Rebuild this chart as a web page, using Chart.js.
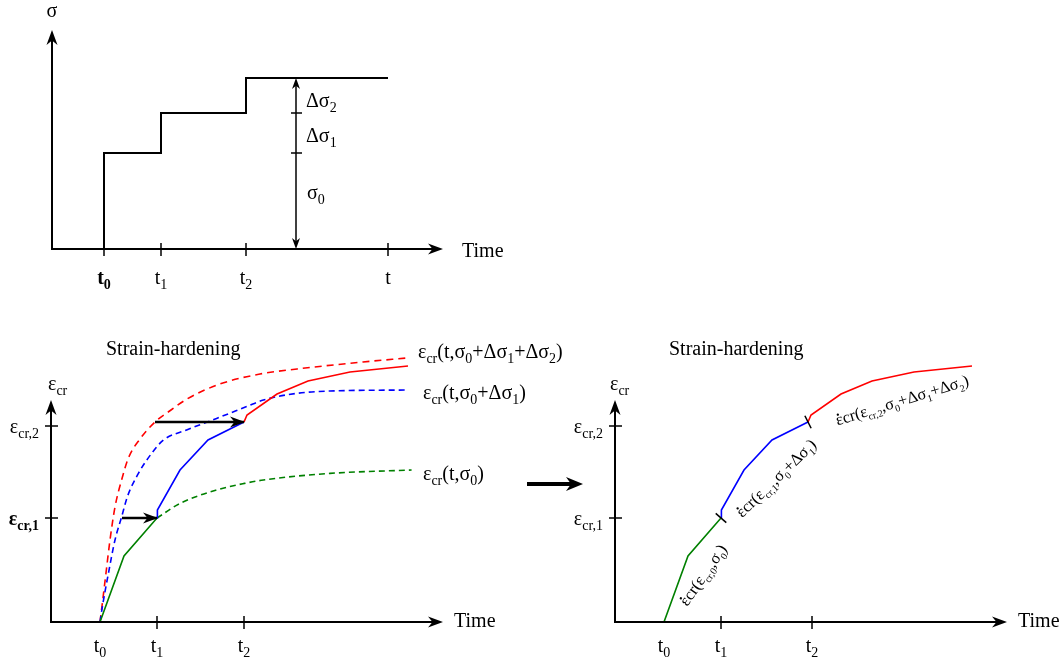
<!DOCTYPE html>
<html lang="en">
<head>
<meta charset="UTF-8" />
<title>Strain-hardening</title>
<style>
  body { margin: 0; background: #fff; overflow: hidden; }
  .page { position: relative; width: 1063px; height: 664px; }
  .page canvas { position: absolute; left: 0; top: 0; }
</style>
</head>
<body>
<div class="page">
  <canvas id="stressChart" width="1063" height="664"></canvas>
  <canvas id="hardeningChart" width="1063" height="664"></canvas>
  <canvas id="compositeChart" width="1063" height="664"></canvas>
</div>

<script src="https://cdn.jsdelivr.net/npm/chart.js"></script>
<script>
// ---- stress history (top) ----
// stepped 'after': each level holds from the previous time up to this one
const stressTimes  = [2.6, 5.45, 9.7, 16.8];
const stressLevels = [0, 4.8, 6.8, 8.55];
const stressTickValues = [2.6, 5.45, 9.7, 16.8];
const stressTickLabels = ['t_{0}', 't_{1}', 't_{2}', 't'];
const deltaArrowTime = 12.2;
const deltaMarks = [4.8, 6.8];

// ---- creep curves (bottom) ----
const timeTickLabels = ['t_{0}', 't_{1}', 't_{2}'];
const hardTickValues = [2.45, 5.3, 9.65];
const compTickValues = [2.45, 5.3, 9.85];
const strainTickValues = [5.2, 9.8];
const strainTickLabels = ['ε_{cr,1}', 'ε_{cr,2}'];

// dashed: creep curves at constant stress
const greenDashT = [5.3, 6.45, 8.28, 9.67, 10.62, 13.95, 18.03];
const greenDashE = [5.2, 5.93, 6.6, 6.93, 7.1, 7.43, 7.6];
const blueDashT = [2.45, 2.57, 2.87, 3.2, 3.53, 3.82, 4.37, 5.03, 5.62, 6.78, 8.28, 9.78, 10.62, 12.28, 13.95, 17.85];
const blueDashE = [0, 0.77, 2.43, 4.1, 5.25, 6.27, 7.43, 8.43, 9.1, 9.6, 10.18, 10.77, 11.1, 11.43, 11.55, 11.6];
const redDashT = [2.45, 2.55, 2.75, 2.95, 3.2, 3.53, 3.87, 4.45, 5.2, 6.0, 6.8, 8.45, 10.45, 12.3, 15.6, 17.8];
const redDashE = [0, 0.8, 2.45, 4.1, 5.75, 7.1, 8.2, 9.15, 10.0, 10.6, 11.15, 11.9, 12.4, 12.65, 13.0, 13.2];

// solid: strain-hardening path
const pathS0T = [2.45, 3.65, 5.3];
const pathS0E = [0, 3.3, 5.2];
const pathS1T = [5.3, 5.32, 6.45, 7.85, 9.65];
const pathS1E = [5.2, 5.6, 7.6, 9.1, 10.0];
const pathS2T = [9.65, 9.8, 11.3, 12.85, 14.95, 17.85];
const pathS2E = [10.0, 10.35, 11.4, 12.05, 12.5, 12.8];

// horizontal shifts (equal strain)
const shift1T = [3.55, 5.3];
const shift1E = [5.2, 5.2];
const shift2T = [5.2, 9.65];
const shift2E = [10.0, 10.0];

const UNIT = 20;          // px per unit on both axes
const PAGE_W = 1063, PAGE_H = 664;
const FONT = '"Liberation Serif", "Times New Roman", serif';
const RED = '#ff0000', BLUE = '#0000ff', GREEN = '#008000';

function frame(originX, originY, xMax, yMax) {
  return {
    left: originX,
    bottom: PAGE_H - originY,
    right: PAGE_W - originX - xMax * UNIT,
    top: originY - yMax * UNIT
  };
}

function series(xs, ys, color, extra) {
  return Object.assign({
    data: xs.map((x, i) => ({ x: x, y: ys[i] })),
    borderColor: color,
    borderWidth: 1.6,
    pointRadius: 0,
    fill: false,
    tension: 0,
    clip: false
  }, extra || {});
}

function dashed(xs, ys, color, dash) {
  return series(xs, ys, color, { borderDash: dash, tension: 0.4, cubicInterpolationMode: 'monotone' });
}

// text with _{subscript} and a combining dot (U+0307) over the previous char
function parseRich(str) {
  const parts = [];
  const re = /_\{([^}]*)\}|\u0307/g;
  let last = 0, m;
  while ((m = re.exec(str))) {
    if (m.index > last) parts.push({ t: str.slice(last, m.index), sub: false });
    if (m[0] === '\u0307') parts.push({ dot: true });
    else parts.push({ t: m[1], sub: true });
    last = re.lastIndex;
  }
  if (last < str.length) parts.push({ t: str.slice(last), sub: false });
  return parts;
}

function drawRich(ctx, str, x, y, size, align, bold, subRatio) {
  const parts = parseRich(str);
  const subSize = Math.round(size * (subRatio || 0.7));
  const w8 = bold ? 'bold ' : '';
  const fontOf = p => w8 + (p.sub ? subSize : size) + 'px ' + FONT;
  let total = 0;
  parts.forEach(p => {
    if (p.dot) { p.w = 0; return; }
    ctx.font = fontOf(p);
    p.w = ctx.measureText(p.t).width;
    total += p.w;
  });
  let cx = align === 'center' ? x - total / 2 : align === 'right' ? x - total : x;
  const base = y + size * 0.33;
  ctx.textAlign = 'left';
  ctx.textBaseline = 'alphabetic';
  let prevLastW = 0;
  parts.forEach(p => {
    if (p.dot) {
      ctx.beginPath();
      ctx.arc(cx - prevLastW / 2, base - size * 0.62, size * 0.07, 0, Math.PI * 2);
      ctx.fill();
      return;
    }
    ctx.font = fontOf(p);
    ctx.fillText(p.t, cx, base + (p.sub ? size * 0.26 : 0));
    prevLastW = ctx.measureText(p.t.slice(-1)).width;
    cx += p.w;
  });
}

function arrowHead(ctx, x, y, angle, len, half) {
  ctx.save();
  ctx.translate(x, y);
  ctx.rotate(angle);
  ctx.beginPath();
  ctx.moveTo(0, 0);
  ctx.lineTo(-len, -half);
  ctx.lineTo(-len * 0.7, 0);
  ctx.lineTo(-len, half);
  ctx.closePath();
  ctx.fill();
  ctx.restore();
}

function diagramPlugin(cfg) {
  return {
    id: 'diagram',
    afterDatasetsDraw(chart) {
      const ctx = chart.ctx;
      const X = v => chart.scales.x.getPixelForValue(v);
      const Y = v => chart.scales.y.getPixelForValue(v);
      ctx.save();
      ctx.fillStyle = '#000';
      ctx.strokeStyle = '#000';

      // arrowheads on datasets flagged arrowEnd
      chart.data.datasets.forEach((ds, i) => {
        if (!ds.arrowEnd) return;
        const pts = chart.getDatasetMeta(i).data;
        const a = pts[pts.length - 2], b = pts[pts.length - 1];
        arrowHead(ctx, b.x + 1, b.y, Math.atan2(b.y - a.y, b.x - a.x), 15, 5.5);
      });

      // axes
      const x0 = X(0), y0 = Y(0), xe = X(cfg.xEnd), ye = Y(cfg.yEnd);
      ctx.lineWidth = 2;
      ctx.beginPath();
      ctx.moveTo(x0, ye + 8);
      ctx.lineTo(x0, y0);
      ctx.lineTo(xe - 8, y0);
      ctx.stroke();
      arrowHead(ctx, xe, y0, 0, 15, 5.5);
      arrowHead(ctx, x0, ye, -Math.PI / 2, 15, 5.5);

      // ticks
      ctx.lineWidth = 1.5;
      cfg.xTicks.forEach((v, i) => {
        if (cfg.skipXTick && cfg.skipXTick.includes(i)) return;
        ctx.beginPath();
        ctx.moveTo(X(v), y0 - 6);
        ctx.lineTo(X(v), y0 + 7);
        ctx.stroke();
      });
      (cfg.yTicks || []).forEach(v => {
        ctx.beginPath();
        ctx.moveTo(x0 - 6, Y(v));
        ctx.lineTo(x0 + 7, Y(v));
        ctx.stroke();
      });

      // tick labels
      cfg.xTicks.forEach((v, i) => {
        drawRich(ctx, cfg.xLabels[i], X(v), Y(cfg.xLabelY), 20, 'center', (cfg.boldX || []).includes(i));
      });
      (cfg.yTicks || []).forEach((v, i) => {
        drawRich(ctx, cfg.yLabels[i], X(cfg.yLabelX), Y(v), 20, 'right', (cfg.boldY || []).includes(i));
      });

      // free texts
      (cfg.texts || []).forEach(t => {
        ctx.save();
        ctx.translate(X(t.x), Y(t.y));
        if (t.angle) ctx.rotate(t.angle * Math.PI / 180);
        drawRich(ctx, t.text, 0, 0, t.size || 20, t.align || 'left', t.bold, t.sub);
        ctx.restore();
      });

      if (cfg.extra) cfg.extra(ctx, X, Y, chart);
      ctx.restore();
    }
  };
}

function makeChart(id, datasets, originX, originY, xMax, yMax, cfg) {
  return new Chart(document.getElementById(id), {
    type: 'line',
    data: { datasets: datasets },
    options: {
      responsive: false,
      animation: false,
      events: [],
      layout: { padding: frame(originX, originY, xMax, yMax) },
      scales: {
        x: { type: 'linear', min: 0, max: xMax, display: false },
        y: { type: 'linear', min: 0, max: yMax, display: false }
      },
      plugins: { legend: { display: false }, tooltip: { enabled: false } }
    },
    plugins: [diagramPlugin(cfg)]
  });
}

// ---- top: stepped stress history ----
makeChart('stressChart', [
  series(stressTimes, stressLevels, '#000', { borderWidth: 2, stepped: 'after' })
], 52, 249, 20, 12, {
  xEnd: 19.55, yEnd: 10.95,
  xTicks: stressTickValues, xLabels: stressTickLabels, xLabelY: -1.4, boldX: [0],
  texts: [
    { text: 'σ', x: 0, y: 11.95, align: 'center' },
    { text: 'Time', x: 20.5, y: -0.05 },
    { text: 'Δσ_{2}', x: 12.7, y: 7.45 },
    { text: 'Δσ_{1}', x: 12.7, y: 5.7 },
    { text: 'σ_{0}', x: 12.75, y: 2.85 }
  ],
  extra(ctx, X, Y) {
    const ax = X(deltaArrowTime);
    const top = stressLevels[stressLevels.length - 1];
    ctx.lineWidth = 1.5;
    ctx.beginPath();
    ctx.moveTo(ax, Y(top) + 6);
    ctx.lineTo(ax, Y(0) - 6);
    ctx.stroke();
    arrowHead(ctx, ax, Y(top), -Math.PI / 2, 11, 4);
    arrowHead(ctx, ax, Y(0), Math.PI / 2, 11, 4);
    deltaMarks.forEach(v => {
      ctx.beginPath();
      ctx.moveTo(ax - 5, Y(v));
      ctx.lineTo(ax + 6, Y(v));
      ctx.stroke();
    });
  }
});

// ---- bottom left: curves and shifts ----
makeChart('hardeningChart', [
  series(shift1T, shift1E, '#000', { borderWidth: 2.5, arrowEnd: true }),
  series(shift2T, shift2E, '#000', { borderWidth: 2.5, arrowEnd: true }),
  series(pathS0T, pathS0E, GREEN),
  series(pathS1T, pathS1E, BLUE),
  series(pathS2T, pathS2E, RED),
  dashed(greenDashT, greenDashE, GREEN, [6, 4]),
  dashed(blueDashT, blueDashE, BLUE, [6, 4]),
  dashed(redDashT, redDashE, RED, [7, 5])
], 51, 622, 20, 14, {
  xEnd: 19.6, yEnd: 11.1,
  xTicks: hardTickValues, xLabels: timeTickLabels, xLabelY: -1.15, skipXTick: [0],
  yTicks: strainTickValues, yLabels: strainTickLabels, yLabelX: -0.6, boldY: [0],
  texts: [
    { text: 'Strain-hardening', x: 2.75, y: 13.7 },
    { text: 'ε_{cr}', x: -0.15, y: 11.95 },
    { text: 'Time', x: 20.15, y: 0.1 },
    { text: 'ε_{cr}(t,σ_{0}+Δσ_{1}+Δσ_{2})', x: 18.35, y: 13.55 },
    { text: 'ε_{cr}(t,σ_{0}+Δσ_{1})', x: 18.6, y: 11.5 },
    { text: 'ε_{cr}(t,σ_{0})', x: 18.6, y: 7.45 }
  ]
});

// ---- bottom right: resulting creep path ----
makeChart('compositeChart', [
  series(pathS0T, pathS0E, GREEN),
  series(pathS1T, pathS1E, BLUE),
  series(pathS2T, pathS2E, RED)
], 615, 622, 20, 14, {
  xEnd: 19.6, yEnd: 11.1,
  xTicks: compTickValues, xLabels: timeTickLabels, xLabelY: -1.15, skipXTick: [0],
  yTicks: strainTickValues, yLabels: strainTickLabels, yLabelX: -0.6,
  texts: [
    { text: 'Strain-hardening', x: 2.7, y: 13.7 },
    { text: 'ε_{cr}', x: -0.25, y: 11.95 },
    { text: 'Time', x: 20.15, y: 0.1 },
    { text: 'ε\u0307cr(ε_{cr,0},σ_{0})', x: 4.4, y: 2.35, size: 16.5, sub: 0.62, align: 'center', angle: -55 },
    { text: 'ε\u0307cr(ε_{cr,1},σ_{0}+Δσ_{1})', x: 8.05, y: 7.2, size: 16.5, sub: 0.62, align: 'center', angle: -44 },
    { text: 'ε\u0307cr(ε_{cr,2},σ_{0}+Δσ_{1}+Δσ_{2})', x: 14.35, y: 11.1, size: 16.5, sub: 0.62, align: 'center', angle: -17 }
  ],
  extra(ctx, X, Y) {
    // junction marks across the path
    ctx.lineWidth = 1.5;
    [[pathS0T, pathS0E], [pathS1T, pathS1E]].forEach(([ts, es]) => {
      const n = ts.length;
      const ax = X(ts[n - 2]), ay = Y(es[n - 2]), bx = X(ts[n - 1]), by = Y(es[n - 1]);
      const d = Math.hypot(bx - ax, by - ay);
      const nx = -(by - ay) / d, ny = (bx - ax) / d;
      ctx.beginPath();
      ctx.moveTo(bx - nx * 7, by - ny * 7);
      ctx.lineTo(bx + nx * 7, by + ny * 7);
      ctx.stroke();
    });
    // big arrow between the two panels
    ctx.lineWidth = 4;
    ctx.beginPath();
    ctx.moveTo(X(-4.4), Y(6.9));
    ctx.lineTo(X(-1.6) - 10, Y(6.9));
    ctx.stroke();
    arrowHead(ctx, X(-1.6), Y(6.9), 0, 17, 7);
  }
});
</script>
</body>
</html>
